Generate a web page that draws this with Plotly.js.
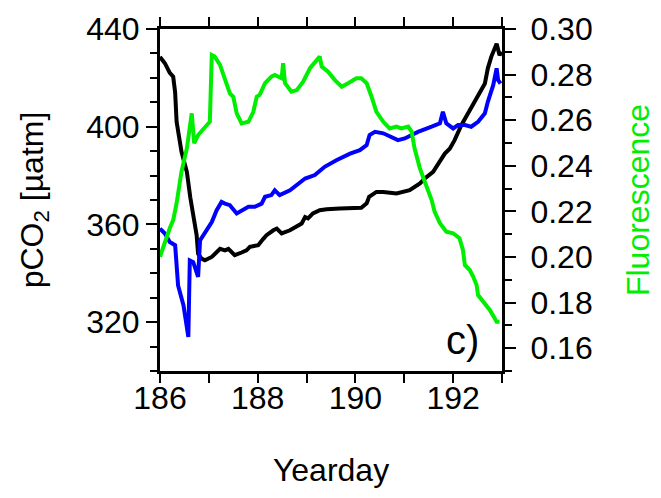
<!DOCTYPE html>
<html>
<head>
<meta charset="utf-8">
<script src="https://cdn.plot.ly/plotly-3.0.1.min.js"></script>
<style>html,body{margin:0;padding:0;background:#fff;}#chart{width:661px;height:498px;}</style>
</head>
<body>
<div id="chart"></div>
<script>
// Black pCO2 series (left axis)
const blackDays = [186.00,186.10,186.20,186.27,186.31,186.34,186.44,186.55,186.62,186.68,186.75,186.78,186.85,186.92,187.06,187.23,187.33,187.40,187.53,187.67,187.77,187.84,188.01,188.11,188.18,188.32,188.39,188.49,188.66,188.90,188.97,189.03,189.13,189.27,189.41,189.68,189.95,190.12,190.23,190.28,190.43,190.57,190.84,191.11,191.32,191.42,191.59,191.73,191.83,191.93,192.03,192.17,192.34,192.51,192.65,192.71,192.78,192.89,192.95,192.99];
const blackPco2 = [428.6,426,422,420.5,414,402,389.7,381.5,371,363.8,355.6,348,346,345.3,346.7,350,349.4,350,347.4,348.5,349.4,350.8,351.5,354,355.6,357.6,358.3,356.3,357.6,360.4,363,362.5,364.5,365.8,366.2,366.5,366.5,366.8,368.6,371.3,373.3,373.3,372.7,374,376.8,378.8,381.5,385.6,389,391,394.5,400.7,406.8,412.3,417.7,423.9,428.6,434,429.3,430.7];

// Blue pCO2 series (left axis)
const blueDays = [186.00,186.10,186.20,186.31,186.37,186.48,186.58,186.61,186.68,186.78,186.82,186.92,187.06,187.16,187.26,187.33,187.43,187.57,187.70,187.81,187.94,188.08,188.15,188.28,188.35,188.45,188.66,188.86,188.97,189.17,189.37,189.61,189.89,190.09,190.23,190.29,190.40,190.57,190.70,190.87,191.01,191.28,191.56,191.73,191.79,191.86,192.00,192.10,192.24,192.37,192.51,192.65,192.71,192.82,192.89,192.92,192.97];
const bluePco2 = [358.3,356.3,352.8,351.5,335,326.9,313.9,345.3,344.6,338.5,353.5,356.9,361,365.8,369.2,368.5,367.9,364.5,365.8,367.2,367.2,368.5,371.3,372,374,372,374,376.8,378.8,380.2,383.6,386.3,389,390.4,392.5,396.6,397.9,397.3,395.9,394.5,395.2,397.9,400,401.4,406.1,401.4,399.3,400.7,400.7,400,402,405.5,410.2,417,423.9,419.1,417.7];

// Green fluorescence series (right axis)
const greenDays = [186.00,186.10,186.20,186.27,186.34,186.44,186.55,186.65,186.70,186.78,186.92,187.02,187.06,187.12,187.23,187.33,187.43,187.50,187.57,187.67,187.81,187.91,187.98,188.04,188.15,188.28,188.35,188.49,188.52,188.56,188.69,188.80,188.93,189.07,189.20,189.27,189.31,189.44,189.58,189.72,189.85,190.02,190.12,190.23,190.33,190.43,190.57,190.70,190.84,190.94,191.08,191.15,191.21,191.32,191.42,191.56,191.62,191.73,191.86,192.00,192.13,192.20,192.24,192.34,192.41,192.48,192.51,192.61,192.75,192.85,192.89,192.95];
const greenFluor = [0.2001,0.2067,0.2126,0.2162,0.2236,0.2374,0.2477,0.2630,0.2499,0.2535,0.2572,0.2593,0.2886,0.2879,0.2842,0.2784,0.2718,0.2703,0.2630,0.2586,0.2593,0.2637,0.2703,0.2711,0.2762,0.2791,0.2798,0.2784,0.2850,0.2762,0.2725,0.2732,0.2769,0.2828,0.2857,0.2879,0.2835,0.2813,0.2776,0.2747,0.2762,0.2784,0.2784,0.2762,0.2703,0.2637,0.2593,0.2564,0.2572,0.2564,0.2572,0.2550,0.2477,0.2389,0.2330,0.2250,0.2199,0.2148,0.2111,0.2104,0.2082,0.2031,0.1965,0.1943,0.1914,0.1877,0.1833,0.1804,0.1768,0.1731,0.1716,0.1716];

const FONT = 'Liberation Sans, Arial, Helvetica, sans-serif';
const FS = 32;
const GREEN = '#00ee00';

const traces = [
  {x: blackDays, y: blackPco2, type: 'scatter', mode: 'lines', line: {color: '#000000', width: 4}, yaxis: 'y', name: 'pCO2 a'},
  {x: blueDays, y: bluePco2, type: 'scatter', mode: 'lines', line: {color: '#0000ff', width: 4}, yaxis: 'y', name: 'pCO2 b'},
  {x: greenDays, y: greenFluor, type: 'scatter', mode: 'lines', line: {color: GREEN, width: 4}, yaxis: 'y2', name: 'Fluorescence'}
];

const layout = {
  width: 661, height: 498,
  margin: {l: 160, r: 159, t: 29, b: 127, pad: 0},
  paper_bgcolor: '#ffffff', plot_bgcolor: '#ffffff',
  showlegend: false,
  font: {family: FONT, size: FS, color: '#000'},
  xaxis: {
    range: [186, 193], tick0: 186, dtick: 2,
    ticks: 'outside', ticklen: 9, tickwidth: 2, tickcolor: '#000',
    minor: {dtick: 1, ticks: 'outside', ticklen: 9, tickwidth: 2, tickcolor: '#000', showgrid: false},
    ticklabelstandoff: -12,
    showline: true, linewidth: 3, linecolor: '#000', mirror: 'ticks',
    showgrid: false, zeroline: false,
    tickfont: {family: FONT, size: FS, color: '#000'},
    title: {text: 'Yearday', font: {family: FONT, size: FS, color: '#000'}, standoff: 44}
  },
  yaxis: {
    range: [300, 440], tick0: 0, dtick: 40,
    ticks: 'outside', ticklen: 11, tickwidth: 2, tickcolor: '#000',
    minor: {dtick: 10, ticks: 'outside', ticklen: 7, tickwidth: 2, tickcolor: '#000', showgrid: false},
    showline: true, linewidth: 3, linecolor: '#000', mirror: true,
    showgrid: false, zeroline: false,
    tickfont: {family: FONT, size: FS, color: '#000'},
    title: {text: 'pCO<sub>2</sub> [µatm]', font: {family: FONT, size: FS, color: '#000'}, standoff: 34}
  },
  yaxis2: {
    range: [0.15, 0.30], tick0: 0, dtick: 0.02, tickformat: '.2f',
    overlaying: 'y', side: 'right', anchor: 'x',
    ticks: 'outside', ticklen: 11, tickwidth: 2, tickcolor: '#000',
    minor: {dtick: 0.01, ticks: 'outside', ticklen: 7, tickwidth: 2, tickcolor: '#000', showgrid: false},
    ticklabelstandoff: 8,
    showline: true, linewidth: 3, linecolor: '#000',
    showgrid: false, zeroline: false,
    tickfont: {family: FONT, size: FS, color: '#000'},
    title: {text: 'Fluorescence', font: {family: FONT, size: FS, color: GREEN}, standoff: 35}
  },
  annotations: [
    {text: 'c)', xref: 'paper', yref: 'paper', x: 0.885, y: 0.09, xanchor: 'center', yanchor: 'middle',
     showarrow: false, font: {family: FONT, size: 40, color: '#000'}}
  ]
};

Plotly.newPlot('chart', traces, layout, {displayModeBar: false, staticPlot: true});
</script>
</body>
</html>
